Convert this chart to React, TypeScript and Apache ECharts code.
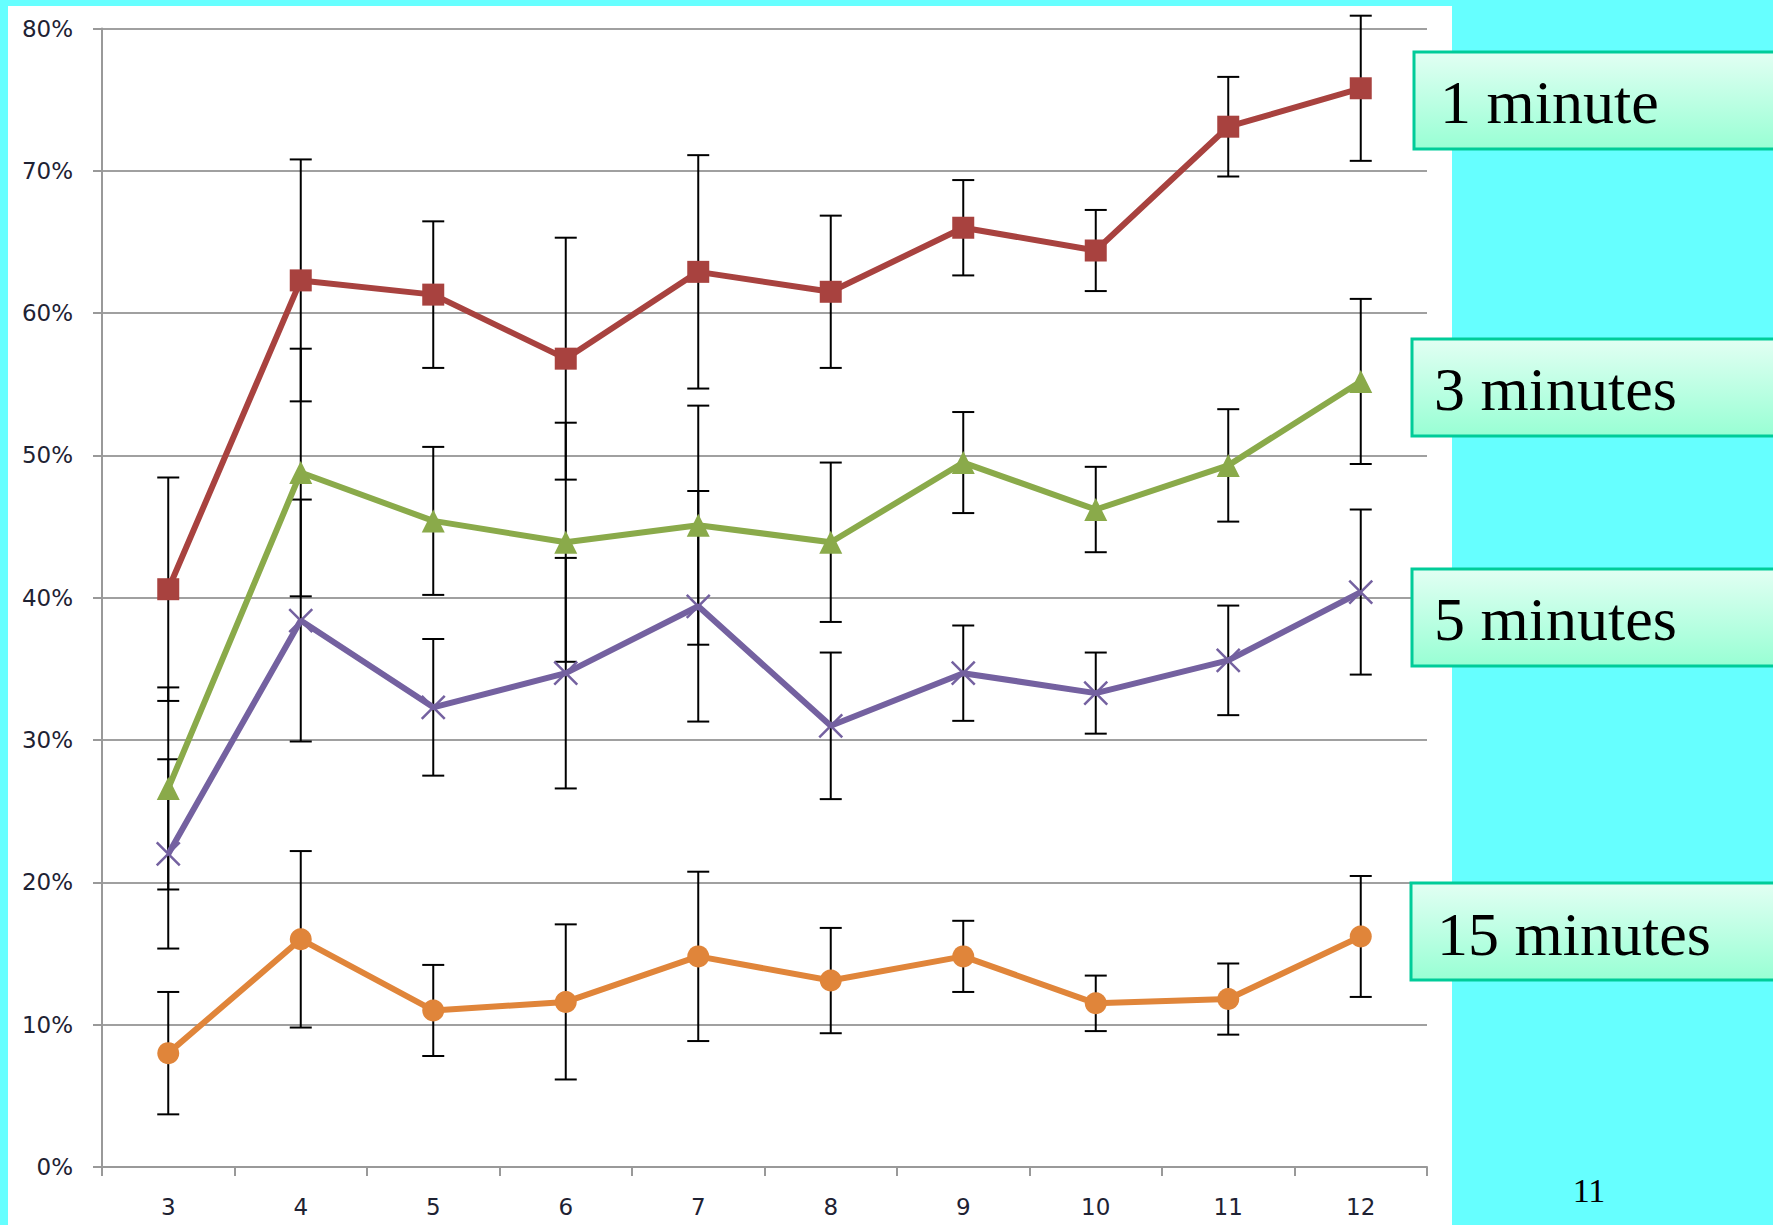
import React, { useEffect, useRef } from "react";
import * as echarts from "echarts";

// Session length (x axis categories)
const categories = ["3", "4", "5", "6", "7", "8", "9", "10", "11", "12"];

// Mean percentages per series
const oneMinute = [40.6, 62.3, 61.3, 56.8, 62.9, 61.5, 66.0, 64.4, 73.1, 75.8];
const threeMinutes = [26.6, 48.8, 45.4, 43.9, 45.1, 43.9, 49.5, 46.2, 49.3, 55.2];
const fiveMinutes = [22.0, 38.4, 32.3, 34.7, 39.4, 31.0, 34.7, 33.3, 35.6, 40.4];
const fifteenMinutes = [8.0, 16.0, 11.0, 11.6, 14.8, 13.1, 14.8, 11.5, 11.8, 16.2];

// Half-widths of the error bars
const oneMinuteErr = [7.85, 8.5, 5.15, 8.5, 8.2, 5.35, 3.35, 2.85, 3.5, 5.1];
const threeMinutesErr = [7.1, 8.7, 5.2, 8.4, 8.4, 5.6, 3.55, 3.0, 3.95, 5.8];
const fiveMinutesErr = [6.65, 8.5, 4.8, 8.1, 8.1, 5.15, 3.35, 2.85, 3.85, 5.8];
const fifteenMinutesErr = [4.3, 6.2, 3.2, 5.45, 5.95, 3.7, 2.5, 1.95, 2.5, 4.25];

const yTicks = { min: 0, max: 80, interval: 10 };

const legendNames = ["1 minute", "3 minutes", "5 minutes", "15 minutes"];
const pageNumber = "11";

const RED = "#A8423F";
const GREEN = "#8AAA4A";
const PURPLE = "#7461A0";
const ORANGE = "#E0853A";

const CROSS = "path://M0 0L20 20M20 0L0 20";

function errorSeries(values: number[], errs: number[]) {
  return {
    type: "custom",
    z: 1,
    silent: true,
    clip: false,
    encode: { x: 0, y: [1, 2] },
    data: values.map((v, i) => [i, v - errs[i], v + errs[i]]),
    renderItem: (params: any, api: any) => {
      const idx = api.value(0);
      const lo = api.coord([idx, api.value(1)]);
      const hi = api.coord([idx, api.value(2)]);
      const cap = 11;
      const style = { stroke: "#000", lineWidth: 2 };
      return {
        type: "group",
        children: [
          { type: "line", shape: { x1: lo[0], y1: lo[1], x2: hi[0], y2: hi[1] }, style },
          { type: "line", shape: { x1: hi[0] - cap, y1: hi[1], x2: hi[0] + cap, y2: hi[1] }, style },
          { type: "line", shape: { x1: lo[0] - cap, y1: lo[1], x2: lo[0] + cap, y2: lo[1] }, style },
        ],
      };
    },
  };
}

function legendBox(label: string, top: number, left: number, textX: number, textY: number) {
  return [
    {
      type: "rect",
      z: 10,
      shape: { x: left, y: top, width: 400, height: 97 },
      style: {
        fill: {
          type: "linear",
          x: 0,
          y: 0,
          x2: 0,
          y2: 1,
          colorStops: [
            { offset: 0, color: "#E2FFF3" },
            { offset: 1, color: "#98FFD4" },
          ],
        },
        stroke: "#00CC99",
        lineWidth: 3,
      },
    },
    {
      type: "text",
      z: 11,
      x: textX,
      y: textY,
      style: {
        text: label,
        fill: "#000",
        font: "62px 'Liberation Serif', 'Times New Roman', serif",
        textAlign: "left",
        textVerticalAlign: "middle",
      },
    },
  ];
}

export default function App() {
  const ref = useRef<HTMLDivElement>(null);

  useEffect(() => {
    if (!ref.current) return;
    const chart = echarts.init(ref.current, null, { renderer: "svg" });

    const lineBase = {
      type: "line",
      z: 3,
      symbolSize: 22,
      showSymbol: true,
      emphasis: { disabled: true },
    };

    const labelFont = {
      color: "#1E2233",
      fontFamily: "'DejaVu Sans', Verdana, sans-serif",
      fontSize: 23,
    };

    chart.setOption({
      animation: false,
      backgroundColor: "#66FFFF",
      grid: { left: 102, right: 346, top: 28.5, bottom: 58, containLabel: false },
      xAxis: {
        type: "category",
        data: categories,
        boundaryGap: true,
        axisLine: { lineStyle: { color: "#999", width: 2 } },
        axisTick: { show: true, length: 9, alignWithLabel: false, lineStyle: { color: "#999", width: 2 } },
        axisLabel: { margin: 28, ...labelFont },
        splitLine: { show: false },
      },
      yAxis: {
        type: "value",
        min: yTicks.min,
        max: yTicks.max,
        interval: yTicks.interval,
        axisLine: { show: true, lineStyle: { color: "#999", width: 2 } },
        axisTick: { show: true, length: 9, lineStyle: { color: "#999", width: 2 } },
        axisLabel: { margin: 29, formatter: "{value}%", ...labelFont },
        splitLine: { show: true, lineStyle: { color: "#A0A0A0", width: 2 } },
      },
      graphic: [
        {
          type: "rect",
          z: -10,
          silent: true,
          shape: { x: 8, y: 6, width: 1444, height: 1230 },
          style: { fill: "#FFFFFF" },
        },
        ...legendBox(legendNames[0], 52, 1414, 1440, 102),
        ...legendBox(legendNames[1], 339, 1412, 1434, 389),
        ...legendBox(legendNames[2], 569, 1412, 1434, 619),
        ...legendBox(legendNames[3], 883, 1411, 1437, 934),
        {
          type: "text",
          z: 11,
          x: 1589,
          y: 1190,
          style: {
            text: pageNumber,
            fill: "#000",
            font: "34px 'Liberation Serif', 'Times New Roman', serif",
            textAlign: "center",
            textVerticalAlign: "middle",
          },
        },
      ],
      series: [
        errorSeries(oneMinute, oneMinuteErr),
        errorSeries(threeMinutes, threeMinutesErr),
        errorSeries(fiveMinutes, fiveMinutesErr),
        errorSeries(fifteenMinutes, fifteenMinutesErr),
        {
          ...lineBase,
          name: legendNames[0],
          data: oneMinute,
          symbol: "rect",
          lineStyle: { color: RED, width: 6 },
          itemStyle: { color: RED },
        },
        {
          ...lineBase,
          name: legendNames[1],
          data: threeMinutes,
          symbol: "triangle",
          symbolSize: 23,
          lineStyle: { color: GREEN, width: 6 },
          itemStyle: { color: GREEN },
        },
        {
          ...lineBase,
          name: legendNames[2],
          data: fiveMinutes,
          symbol: CROSS,
          symbolSize: 23,
          lineStyle: { color: PURPLE, width: 6 },
          itemStyle: { color: PURPLE, borderColor: PURPLE, borderWidth: 2.5 },
        },
        {
          ...lineBase,
          name: legendNames[3],
          data: fifteenMinutes,
          symbol: "circle",
          lineStyle: { color: ORANGE, width: 6 },
          itemStyle: { color: ORANGE },
        },
      ],
    });

    return () => chart.dispose();
  }, []);

  return (
    <div
      ref={ref}
      style={{ position: "fixed", left: 0, top: 0, width: 1773, height: 1225, background: "#66FFFF" }}
    />
  );
}
